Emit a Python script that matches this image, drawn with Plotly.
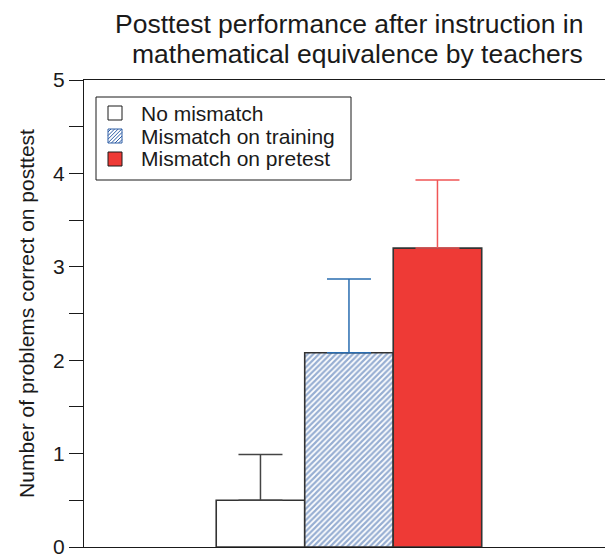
import plotly.graph_objects as go

# Group labels, means and upper error (one-sided) for posttest scores
groups = ["No mismatch", "Mismatch on training", "Mismatch on pretest"]
positions = [1, 2, 3]
means = [0.50, 2.08, 3.20]
errors = [0.49, 0.79, 0.73]

fill_colors = ["white", "white", "#EE3A36"]
edge_colors = ["#333333", "#333333", "#333333"]
err_colors = ["#444444", "#2a6db0", "#F05656"]
hatch_color = "#2f5ea6"
patterns = ["", "/", ""]

title_lines = ["Posttest performance after instruction in",
               "mathematical equivalence by teachers"]

FONT = "Liberation Sans, Arial, Helvetica, sans-serif"
W, H = 605, 554
ML, MR, MT, MB = 84, 0, 80, 7
PW, PH = W - ML - MR, H - MT - MB


def px(x):
    """Horizontal pixel position -> paper coordinate."""
    return (x - ML) / PW


def py(y):
    """Vertical pixel position (from top) -> paper coordinate."""
    return (H - MB - y) / PH


fig = go.Figure()
for i, name in enumerate(groups):
    marker = dict(color=fill_colors[i], line=dict(color=edge_colors[i], width=1.6))
    if patterns[i]:
        marker["pattern"] = dict(shape=patterns[i], fgcolor=hatch_color,
                                 bgcolor="white", size=4, solidity=0.55)
    fig.add_trace(go.Bar(
        x=[positions[i]], y=[means[i]], name=name, width=1.0,
        marker=marker, showlegend=False,
        error_y=dict(type="data", symmetric=False, array=[errors[i]],
                     arrayminus=[0], color=err_colors[i], thickness=1.5,
                     width=22),
    ))

# Boxed key in the upper-left corner of the plot
box_l, box_t, box_r, box_b = 96, 97, 351, 180
fig.add_shape(type="rect", xref="paper", yref="paper",
              x0=px(box_l), x1=px(box_r), y0=py(box_b), y1=py(box_t),
              line=dict(color="#1a1a1a", width=1), fillcolor="white", layer="above")

sym_l, sym_size, row_top0, row_step = 108, 14, 106, 23
text_x = 139
for i, name in enumerate(groups):
    top = row_top0 + i * row_step
    bottom = top + sym_size
    right = sym_l + sym_size
    edge = hatch_color if patterns[i] else "#1a1a1a"
    fig.add_shape(type="rect", xref="paper", yref="paper",
                  x0=px(sym_l), x1=px(right), y0=py(bottom), y1=py(top),
                  line=dict(color=edge, width=1), fillcolor=fill_colors[i],
                  layer="above")
    if patterns[i]:
        # diagonal "/" hatching clipped to the symbol square
        c = sym_l + top + 3
        while c < right + bottom:
            x_a = max(sym_l, c - bottom)
            y_a = c - x_a
            x_b = min(right, c - top)
            y_b = c - x_b
            fig.add_shape(type="line", xref="paper", yref="paper",
                          x0=px(x_a), y0=py(y_a), x1=px(x_b), y1=py(y_b),
                          line=dict(color=hatch_color, width=1), layer="above")
            c += 3.6
    fig.add_annotation(text=name, xref="paper", yref="paper",
                       x=px(text_x), y=py(top + sym_size / 2), xanchor="left",
                       yanchor="middle", showarrow=False,
                       font=dict(size=21, family=FONT, color="#1a1a1a"))

fig.update_layout(
    width=W, height=H,
    margin=dict(l=ML, r=MR, t=MT, b=MB, autoexpand=False),
    paper_bgcolor="white", plot_bgcolor="white",
    barmode="overlay",
    font=dict(family=FONT, color="#1a1a1a"),
    showlegend=False,
    xaxis=dict(range=[-0.994, 4.893], showticklabels=False, ticks="",
               showgrid=False, zeroline=False, showline=True, automargin=False,
               linecolor="#1a1a1a", linewidth=1.2, mirror=True),
    yaxis=dict(range=[0, 5], tickvals=[0, 1, 2, 3, 4, 5], ticks="outside",
               ticklen=14, tickwidth=1.2, tickcolor="#1a1a1a",
               tickfont=dict(size=21), ticklabeloverflow="allow",
               showgrid=False, zeroline=False, automargin=False,
               showline=True, linecolor="#1a1a1a", linewidth=1.2,
               minor=dict(tickvals=[0.5, 1.5, 2.5, 3.5, 4.5], ticks="outside",
                          ticklen=14, tickwidth=1.2, tickcolor="#1a1a1a"),
               title=dict(text="Number of problems correct on posttest",
                          font=dict(size=21), standoff=12)),
)

# Two-line title, each line placed on its own for tight line spacing
for text, xc, yc in [(title_lines[0], 0.5077, 1.12),
                     (title_lines[1], 0.524, 1.0557)]:
    fig.add_annotation(
        text=text, xref="paper", yref="paper", x=xc, y=yc,
        xanchor="center", yanchor="middle", showarrow=False,
        font=dict(size=26.5, family=FONT, color="#1a1a1a"),
    )

fig.write_html("out.html")
